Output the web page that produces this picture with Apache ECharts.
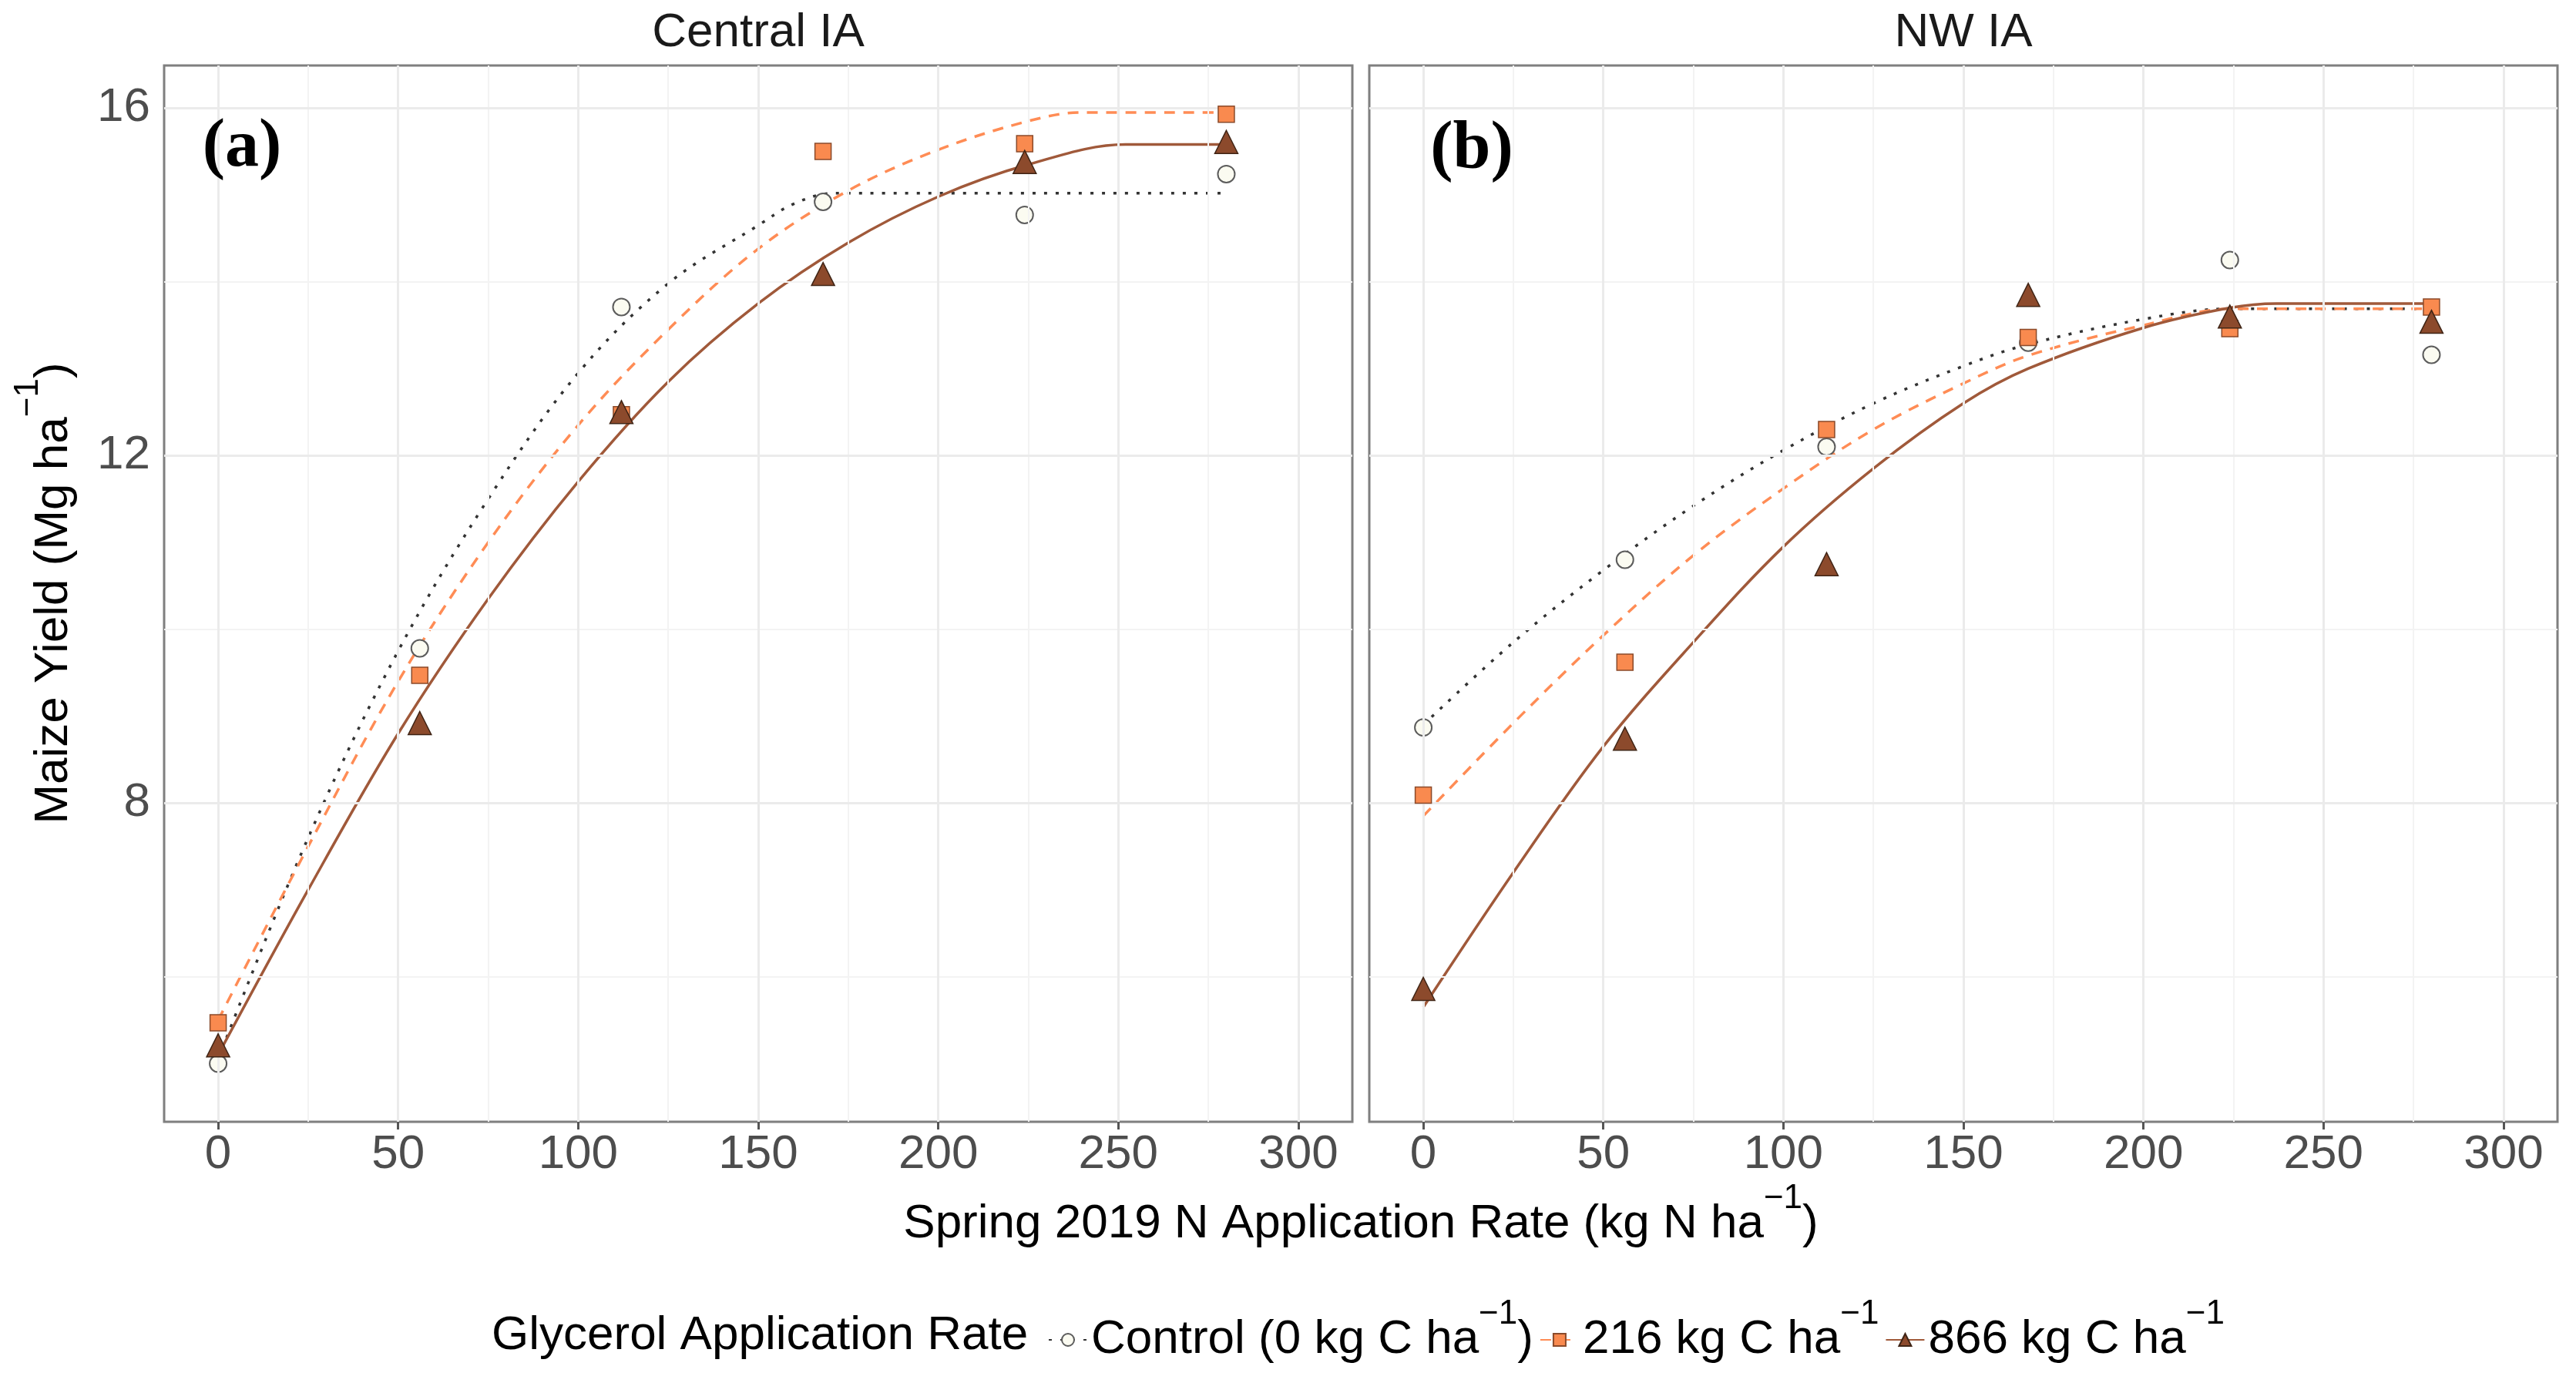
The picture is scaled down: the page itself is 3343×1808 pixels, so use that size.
<!DOCTYPE html>
<html><head><meta charset="utf-8">
<script src="https://cdn.jsdelivr.net/npm/echarts@6/dist/echarts.min.js"></script>
<style>html,body{margin:0;padding:0;background:#fff}#c{width:3343px;height:1808px}</style>
</head><body><div id="c"></div>
<script>
// ---------- data ----------
const panelTitles = ['Central IA', 'NW IA'];
const panelTags = ['(a)', '(b)'];
const groups = ['Control', '216', '866'];
const xRates = [0, 56, 112, 168, 224, 280];

// observed yields (Mg/ha)
const centralControl = [5.00, 9.78, 13.71, 14.92, 14.77, 15.24];
const central216     = [5.47, 9.47, 12.47, 15.50, 15.59, 15.93];
const central866     = [5.21, 8.92, 12.50, 14.09, 15.38, 15.61];
const nwControl      = [8.87, 10.80, 12.10, 13.30, 14.25, 13.16];
const nw216          = [8.09, 9.62, 12.30, 13.36, 13.46, 13.71];
const nw866          = [5.86, 8.74, 10.75, 13.85, 13.60, 13.54];

// fitted curves
const centralControlFitX = [0, 25, 50, 75, 100, 125, 150, 160, 171, 280];
const centralControlFitY = [5.05, 7.6, 9.75, 11.5, 12.95, 13.98, 14.65, 14.9, 15.02, 15.02];
const central216FitX = [0, 25, 50, 75, 100, 125, 150, 175, 200, 225, 240, 280];
const central216FitY = [5.5, 7.5, 9.4, 11.0, 12.35, 13.45, 14.38, 15.05, 15.52, 15.85, 15.95, 15.95];
const central866FitX = [0, 25, 50, 75, 100, 125, 150, 175, 200, 225, 252, 280];
const central866FitY = [5.1, 7.0, 8.8, 10.35, 11.7, 12.85, 13.75, 14.45, 14.98, 15.35, 15.58, 15.58];
const nwControlFitX = [0, 25, 50, 75, 100, 125, 150, 168, 200, 224, 280];
const nwControlFitY = [8.9, 9.85, 10.68, 11.42, 12.06, 12.6, 13.03, 13.28, 13.57, 13.69, 13.69];
const nw216FitX = [0, 25, 50, 75, 100, 125, 150, 168, 200, 225, 280];
const nw216FitY = [7.85, 8.92, 9.93, 10.85, 11.62, 12.3, 12.83, 13.15, 13.5, 13.69, 13.69];
const nw866FitX = [0, 25, 50, 75, 100, 125, 150, 168, 200, 224, 237, 280];
const nw866FitY = [5.65, 7.2, 8.65, 9.85, 10.95, 11.85, 12.6, 13.0, 13.47, 13.7, 13.75, 13.75];

// axes
const xTicks = [0, 50, 100, 150, 200, 250, 300];
const xMinor = [25, 75, 125, 175, 225, 275];
const yTicks = [8, 12, 16];
const yMinor = [6, 10, 14];

// ---------- styles ----------
const FONT = '"Liberation Sans", Arial, Helvetica, sans-serif';
const SERIF = '"Liberation Serif", "Times New Roman", serif';
const sty = {
  'Control': { symbol: 'circle', size: 22, fill: '#FBFBF1', border: '#5c5c5c', bw: 2, line: '#333333', type: [4, 11], lw: 3.5 },
  '216':     { symbol: 'rect', size: 21, fill: '#F98A4F', border: '#8a4a2a', bw: 1.5, line: '#FF8C55', type: [14, 11], lw: 3.5 },
  '866':     { symbol: 'triangle', size: 30, fill: '#8C4A2C', border: '#3f2415', bw: 1.5, line: '#A0593A', type: 'solid', lw: 3.5 }
};
const pts = [[centralControl, central216, central866], [nwControl, nw216, nw866]];
const fits = [
  [[centralControlFitX, centralControlFitY], [central216FitX, central216FitY], [central866FitX, central866FitY]],
  [[nwControlFitX, nwControlFitY], [nw216FitX, nw216FitY], [nw866FitX, nw866FitY]]
];
const legendText = {
  'Control': '{t|Control (0 kg C ha}{s|−1}{t|)}',
  '216': '{t|216 kg C ha}{s|−1}',
  '866': '{t|866 kg C ha}{s|−1}'
};
const rich = {
  t: { fontSize: 62, fontFamily: FONT, color: '#000', lineHeight: 110 },
  s: { fontSize: 44, fontFamily: FONT, color: '#000', lineHeight: 44, verticalAlign: 'top' }
};

const gridLeft = [213, 1777], gridTop = 85, gridW = 1542, gridH = 1371;
const grids = [], xAxes = [], yAxes = [], series = [];
const majorLS = { color: '#EBEBEB', width: 3, type: 'solid' };
const minorLS = { color: '#F3F3F3', width: 2, type: 'solid' };

for (let p = 0; p < 2; p++) {
  grids.push({ left: gridLeft[p], top: gridTop, width: gridW, height: gridH, show: true,
    borderColor: '#7f7f7f', borderWidth: 3, backgroundColor: '#fff' });
  xAxes.push({ gridIndex: p, type: 'value', min: -15, max: 315,
    axisLine: { show: false },
    axisTick: { show: true, customValues: xTicks, length: 10, lineStyle: { color: '#555', width: 3 } },
    axisLabel: { customValues: xTicks, fontSize: 62, fontFamily: FONT, color: '#4D4D4D', margin: 12 },
    splitLine: { show: false } });
  yAxes.push({ gridIndex: p, type: 'value', min: 4.33, max: 16.49,
    axisLine: { show: false },
    axisTick: { show: p === 0, customValues: yTicks, length: 10, lineStyle: { color: '#555', width: 3 } },
    axisLabel: { show: p === 0, customValues: yTicks, fontSize: 62, fontFamily: FONT, color: '#4D4D4D', margin: 18 },
    splitLine: { show: false } });
  // grid lines
  const ml = [];
  xMinor.forEach(v => ml.push({ xAxis: v, lineStyle: minorLS }));
  yMinor.forEach(v => ml.push({ yAxis: v, lineStyle: minorLS }));
  xTicks.forEach(v => ml.push({ xAxis: v, lineStyle: majorLS }));
  yTicks.forEach(v => ml.push({ yAxis: v, lineStyle: majorLS }));
  series.push({ type: 'line', xAxisIndex: p, yAxisIndex: p, data: [], silent: true, z: 0,
    markLine: { silent: true, symbol: ['none', 'none'], label: { show: false }, animation: false, data: ml } });
}
// fitted lines
for (let p = 0; p < 2; p++) {
  groups.forEach((g, gi) => {
    const s = sty[g];
    const fx = fits[p][gi][0], fy = fits[p][gi][1];
    series.push({ type: 'line', name: g, xAxisIndex: p, yAxisIndex: p,
      data: fx.map((x, i) => [x, fy[i]]), showSymbol: false, symbol: s.symbol, smooth: 0.35,
      itemStyle: { color: s.fill, borderColor: s.border, borderWidth: s.bw },
      lineStyle: { color: s.line, width: s.lw, type: s.type }, z: 3, silent: true });
  });
}
// points
for (let p = 0; p < 2; p++) {
  groups.forEach((g, gi) => {
    const s = sty[g];
    series.push({ type: 'scatter', name: g, xAxisIndex: p, yAxisIndex: p,
      data: xRates.map((x, i) => [x, pts[p][gi][i]]), symbol: s.symbol, symbolSize: s.size,
      itemStyle: { color: s.fill, borderColor: s.border, borderWidth: s.bw, opacity: 1 }, z: 4 + gi, silent: true });
  });
}

const graphic = [
  { type: 'text', x: 984, y: 43, style: { text: panelTitles[0], fontSize: 62, fontFamily: FONT, fill: '#1a1a1a', align: 'center', verticalAlign: 'middle' } },
  { type: 'text', x: 2548, y: 43, style: { text: panelTitles[1], fontSize: 62, fontFamily: FONT, fill: '#1a1a1a', align: 'center', verticalAlign: 'middle' } },
  { type: 'text', x: 314, y: 192, z: 100, style: { text: panelTags[0], fontSize: 88, fontWeight: 'bold', fontFamily: SERIF, fill: '#000', align: 'center', verticalAlign: 'middle' } },
  { type: 'text', x: 1910, y: 195, z: 100, style: { text: panelTags[1], fontSize: 88, fontWeight: 'bold', fontFamily: SERIF, fill: '#000', align: 'center', verticalAlign: 'middle' } },
  { type: 'text', x: 1766, y: 1589, style: { text: '{t|Spring 2019 N Application Rate (kg N ha}{s|−1}{t|)}', rich: rich, align: 'center', verticalAlign: 'middle' } },
  { type: 'text', x: 70, y: 770, rotation: Math.PI / 2, style: { text: '{t|Maize Yield (Mg ha}{s|−1}{t|)}', rich: rich, align: 'center', verticalAlign: 'middle' } },
  { type: 'text', x: 638, y: 1734, style: { text: 'Glycerol Application Rate', fontSize: 62, fontFamily: FONT, fill: '#000', align: 'left', verticalAlign: 'middle' } }
];

const chart = echarts.init(document.getElementById('c'));
chart.setOption({
  animation: false,
  backgroundColor: '#fff',
  grid: grids, xAxis: xAxes, yAxis: yAxes, series: series, graphic: graphic,
  legend: { left: 1355, top: 1679, orient: 'horizontal', itemWidth: 50, itemHeight: 20, itemGap: 8,
    selectedMode: false, data: groups, formatter: n => legendText[n], textStyle: { rich: rich } }
});
</script></body></html>
